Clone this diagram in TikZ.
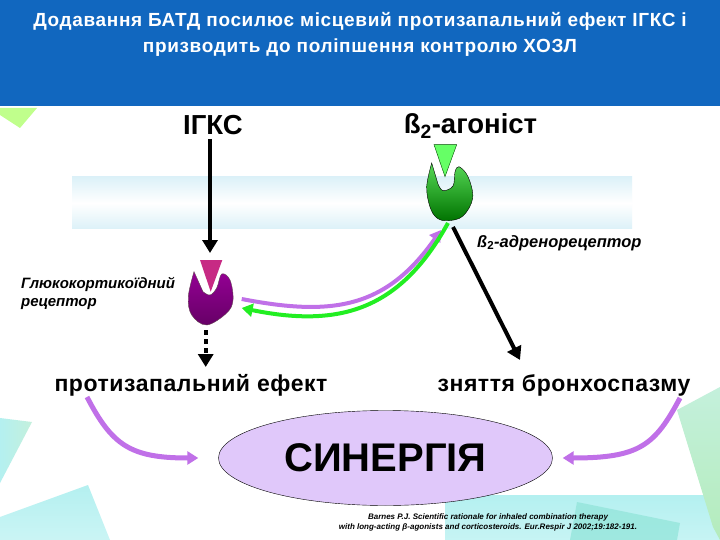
\documentclass[tikz,border=0pt]{standalone}
\usepackage{fontspec}
\setmainfont{Liberation Sans}
\newfontfamily\spacedtitle[LetterSpace=3.4]{Liberation Sans}
\newfontfamily\spacedlabel[LetterSpace=2.4]{Liberation Sans}
\usetikzlibrary{arrows.meta, shapes.geometric}
\definecolor{headblue}{HTML}{1167BF}
\definecolor{arrowpink}{HTML}{C070E8}
\definecolor{arrowgreen}{HTML}{22EE22}
\definecolor{ovalfill}{HTML}{E0C8FA}
\definecolor{bandblue}{HTML}{DCF1F8}
\definecolor{paleteal}{HTML}{B4F0F0}
\definecolor{midteal}{HTML}{8FE4D8}
\definecolor{palegreen}{HTML}{C4F0DC}
\definecolor{deepgreen}{HTML}{B4ECBC}
\tikzset{
  label/.style={inner sep=0pt, font=\bfseries, align=center},
  small/.style={inner sep=0pt, font=\bfseries\itshape\fontsize{15}{18}\selectfont, align=left},
  blackarrow/.style={draw=black, line width=4pt, -{Triangle[length=13pt,width=15pt]}},
  pinkarrow/.style={draw=arrowpink, line width=4pt, -{Triangle[length=11pt,width=13pt]}},
  greenarrow/.style={draw=arrowgreen, line width=4pt, -{Triangle[length=11pt,width=13pt]}},
}
\begin{document}
\begin{tikzpicture}[x=1pt, y=-1pt]
               \useasboundingbox (0,0) rectangle (720,540);
               % background
               \fill[white] (0,0) rectangle (720,540);
               \shade[top color=paleteal, bottom color=paleteal!75] (445,495) rectangle (720,540);
               \fill[midteal, opacity=.7] (577,502)--(680,523)--(677,540)--(570,540)--cycle;
               \shade[top color=palegreen, bottom color=deepgreen] (677,410)--(720,387)--(720,540)--(713,527)--cycle;
               \shade[left color=paleteal, right color=palegreen] (0,418)--(32,422)--(0,483)--cycle;
               \shade[top color=paleteal, bottom color=paleteal!70] (0,517)--(88,485)--(110,540)--(0,540)--cycle;
               \fill[green!55!yellow!45] (0,108)--(37,108)--(20,128)--(0,115)--cycle;
               \fill[headblue] (0,0) rectangle (720,106);
               \shade[top color=bandblue, bottom color=bandblue, middle color=white] (72,177) rectangle (632,229);
               % texts
               \node[label, text=white, font=\spacedtitle\bfseries\fontsize{19}{25.5}\selectfont] (title) at (360,34.5) {Додавання БАТД посилює місцевий протизапальний ефект ІГКС і\\призводить до поліпшення контролю ХОЗЛ};
               \node[label, font=\bfseries\fontsize{27.5}{30}\selectfont] (igks) at (213,125) {ІГКС};
               \node[label, font=\bfseries\fontsize{27.5}{30}\selectfont] (agonist) at (470.5,126) {ß$_{\mathbf 2}$-агоніст};
               \node[small, anchor=west, font=\bfseries\itshape\fontsize{16.5}{18}\selectfont] (adreno) at (477,243) {ß$_{\mathbf 2}$-адренорецептор};
               \node[small, anchor=north west] (gluco) at (21,277) {Глюкокортикоїдний\\рецептор};
               \node[label, font=\spacedlabel\bfseries\fontsize{23}{25}\selectfont] (anti) at (191,385) {протизапальний ефект};
               \node[label, font=\spacedlabel\bfseries\fontsize{23}{25}\selectfont] (relief) at (564,385) {зняття бронхоспазму};
               \node[ellipse, draw=black, fill=ovalfill, minimum width=334pt, minimum height=95pt, inner sep=0pt, font=\bfseries\fontsize{40}{44}\selectfont] (synergy) at (385.5,458) {СИНЕРГІЯ};
               \node[label, font=\bfseries\itshape\fontsize{8}{9.5}\selectfont] (source) at (488,522.5) {Barnes P.J. Scientific rationale for inhaled combination therapy\\with long-acting β-agonists and corticosteroids. Eur.Respir J 2002;19:182-191.};
               % receptors
               \shade[top color=green!60!white!85!black, bottom color=green!45!black, draw=black, thin] plot[smooth, tension=.6] coordinates {(431.7,163) (426.7,186.7) (430,207) (437,218) (448,220.7) (463,216) (472.7,198) (468,176.7) (459,166.7) (455,172) (453,186) (443,190.7) (438,184)} -- cycle;
               \fill[green!60!white, draw=black!70!green, thin] (434,144.7)--(456.7,144.7)--(445,176.7)--cycle;
               \shade[top color=violet!45!magenta!75!black, bottom color=magenta!40!black, draw=magenta!30!black, thin] plot[smooth, tension=.6] coordinates {(194,271.7) (188.3,296.7) (191.7,315) (206.7,325) (226.7,313) (233,300) (230,280) (221.7,274) (216.7,288) (210,295) (203,291.7)} -- cycle;
               \fill[magenta!80!black] (200,260)--(222.3,260)--(210.7,291.7)--cycle;
               % connectors
               \coordinate (igkstop) at (210,139);
               \coordinate (igkstip) at (210,253);
               \coordinate (grdown) at (205.7,330);
               \coordinate (grtip) at (205.7,367);
               \coordinate (bardown) at (453,227);
               \coordinate (bartip) at (520,360);
               \coordinate (barout) at (448,223);
               \coordinate (barin) at (441,230);
               \coordinate (grout) at (241.7,299);
               \coordinate (grin) at (241.7,308);
               \coordinate (antistart) at (87,397);
               \coordinate (reliefstart) at (680,398);
               \draw[blackarrow] (igkstop)--(igkstip);
               \draw[blackarrow, dash pattern=on 5pt off 4pt] (grdown)--(grtip);
               \draw[blackarrow] (bardown)--(bartip);
               \draw[pinkarrow] (grout) .. controls (330,316) and (385,310) .. (barin);
               \draw[greenarrow] (barout) .. controls (400,310) and (340,328) .. (grin);
               \draw[pinkarrow, line width=5pt, shorten >=20pt] (antistart) .. controls (112,445) and (130,458) .. (synergy.west);
               \draw[pinkarrow, line width=5pt, shorten >=10pt] (reliefstart) .. controls (655,445) and (640,458) .. (synergy.east);
          \end{tikzpicture}
\end{document}
